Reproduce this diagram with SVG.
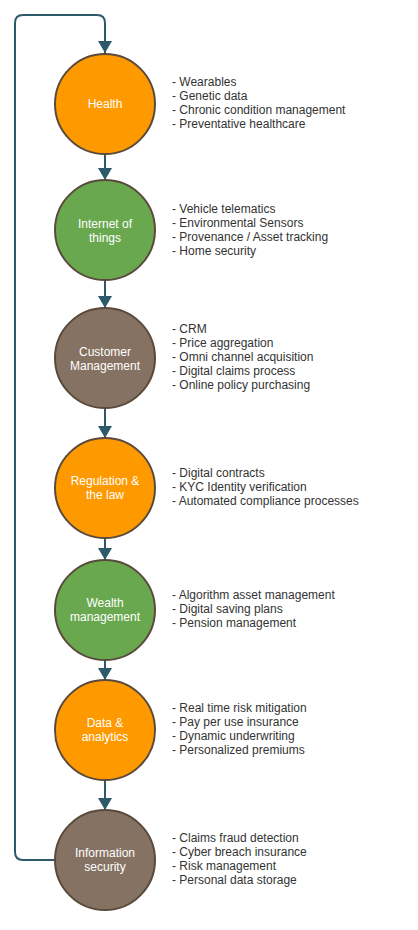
<svg xmlns="http://www.w3.org/2000/svg" width="418" height="930" viewBox="0 0 418 930">
<style>
.c{stroke:#5A4A3C;stroke-width:2}
.o{fill:#FF9900}
.g{fill:#6AA84F}
.b{fill:#857262}
.lbl{font-family:"Liberation Sans",Arial,sans-serif;font-size:12px;fill:#FFFFFF;text-anchor:middle}
.lst{font-family:"Liberation Sans",Arial,sans-serif;font-size:12px;fill:#333333}
.e{fill:none;stroke:#2C5A6B;stroke-width:2}
</style>
<defs>
<marker id="ah" markerUnits="userSpaceOnUse" markerWidth="12" markerHeight="14" refX="12" refY="7" orient="auto">
<path d="M0,0 L12,7 L0,14 z" fill="#2C5A6B"/>
</marker>
</defs>
<rect width="418" height="930" fill="#FFFFFF"/>
<g id="connectors">
<path class="e" d="M55,860 H23 Q15,860 15,852 V23 Q15,15 23,15 H97 Q105,15 105,23 V53" marker-end="url(#ah)"/>
<path class="e" d="M105,154 V180" marker-end="url(#ah)"/>
<path class="e" d="M105,280 V308" marker-end="url(#ah)"/>
<path class="e" d="M105,408 V438" marker-end="url(#ah)"/>
<path class="e" d="M105,538 V560" marker-end="url(#ah)"/>
<path class="e" d="M105,660 V680" marker-end="url(#ah)"/>
<path class="e" d="M105,780 V810" marker-end="url(#ah)"/>
</g>
<g id="health">
<circle class="c o" cx="105" cy="104" r="50"/>
<text class="lbl" x="105" y="108">Health</text>
<text class="lst" x="172" y="86">- Wearables</text>
<text class="lst" x="172" y="100">- Genetic data</text>
<text class="lst" x="172" y="114">- Chronic condition management</text>
<text class="lst" x="172" y="128">- Preventative healthcare</text>
</g>
<g id="iot">
<circle class="c g" cx="105" cy="230" r="50"/>
<text class="lbl" x="105" y="228">Internet of</text>
<text class="lbl" x="105" y="242">things</text>
<text class="lst" x="172" y="213">- Vehicle telematics</text>
<text class="lst" x="172" y="227">- Environmental Sensors</text>
<text class="lst" x="172" y="241">- Provenance / Asset tracking</text>
<text class="lst" x="172" y="255">- Home security</text>
</g>
<g id="customer">
<circle class="c b" cx="105" cy="358" r="50"/>
<text class="lbl" x="105" y="356">Customer</text>
<text class="lbl" x="105" y="370">Management</text>
<text class="lst" x="172" y="333">- CRM</text>
<text class="lst" x="172" y="347">- Price aggregation</text>
<text class="lst" x="172" y="361">- Omni channel acquisition</text>
<text class="lst" x="172" y="375">- Digital claims process</text>
<text class="lst" x="172" y="389">- Online policy purchasing</text>
</g>
<g id="regulation">
<circle class="c o" cx="105" cy="488" r="50"/>
<text class="lbl" x="105" y="485">Regulation &amp;</text>
<text class="lbl" x="105" y="499">the law</text>
<text class="lst" x="172" y="477">- Digital contracts</text>
<text class="lst" x="172" y="491">- KYC Identity verification</text>
<text class="lst" x="172" y="505">- Automated compliance processes</text>
</g>
<g id="wealth">
<circle class="c g" cx="105" cy="610" r="50"/>
<text class="lbl" x="105" y="607">Wealth</text>
<text class="lbl" x="105" y="621">management</text>
<text class="lst" x="172" y="599">- Algorithm asset management</text>
<text class="lst" x="172" y="613">- Digital saving plans</text>
<text class="lst" x="172" y="627">- Pension management</text>
</g>
<g id="data">
<circle class="c o" cx="105" cy="730" r="50"/>
<text class="lbl" x="105" y="727">Data &amp;</text>
<text class="lbl" x="105" y="741">analytics</text>
<text class="lst" x="172" y="712">- Real time risk mitigation</text>
<text class="lst" x="172" y="726">- Pay per use insurance</text>
<text class="lst" x="172" y="740">- Dynamic underwriting</text>
<text class="lst" x="172" y="754">- Personalized premiums</text>
</g>
<g id="infosec">
<circle class="c b" cx="105" cy="860" r="50"/>
<text class="lbl" x="105" y="857">Information</text>
<text class="lbl" x="105" y="871">security</text>
<text class="lst" x="172" y="842">- Claims fraud detection</text>
<text class="lst" x="172" y="856">- Cyber breach insurance</text>
<text class="lst" x="172" y="870">- Risk management</text>
<text class="lst" x="172" y="884">- Personal data storage</text>
</g>
</svg>
